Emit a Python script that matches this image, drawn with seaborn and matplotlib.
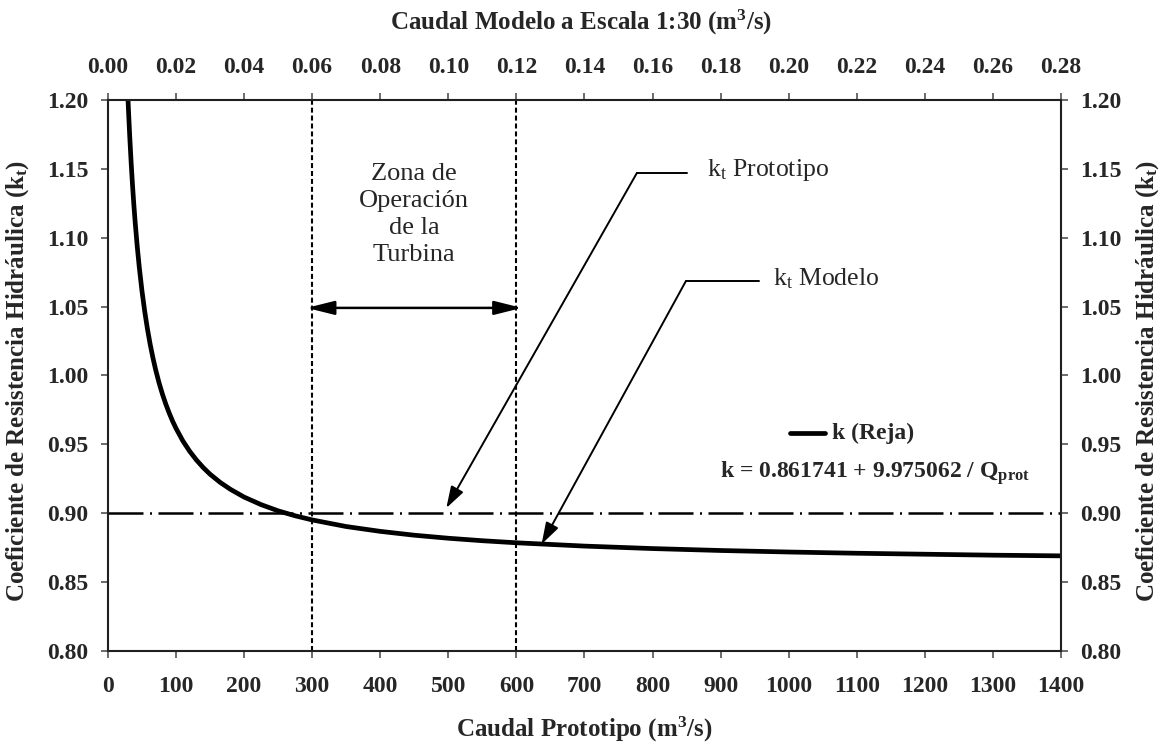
import matplotlib
matplotlib.use("Agg")
import matplotlib.pyplot as plt
import seaborn as sns
import pandas as pd

# Hydraulic resistance coefficient of the trash rack vs. prototype discharge
q_prot = [28, 30, 32, 34, 36, 38, 40, 43, 46, 50, 54, 58, 62, 66, 70, 75, 80,
          85, 90, 95, 100, 110, 120, 130, 140, 150, 165, 180, 200, 225, 250,
          275, 300, 350, 400, 450, 500, 550, 600, 700, 800, 900, 1000, 1100,
          1200, 1300, 1400]
k_reja = [1.2180, 1.1942, 1.1735, 1.1551, 1.1388, 1.1242, 1.1111, 1.0937,
          1.0786, 1.0612, 1.0465, 1.0337, 1.0226, 1.0129, 1.0042, 0.9947,
          0.9864, 0.9791, 0.9726, 0.9667, 0.9615, 0.9524, 0.9449, 0.9385,
          0.9330, 0.9282, 0.9222, 0.9172, 0.9116, 0.9061, 0.9016, 0.8980,
          0.8950, 0.8902, 0.8867, 0.8839, 0.8817, 0.8799, 0.8784, 0.8760,
          0.8742, 0.8728, 0.8717, 0.8708, 0.8701, 0.8694, 0.8689]

kt_design = 0.90              # horizontal reference k_t
zone_limits = [300, 600]      # turbine operating range (m3/s)
scale_factor = 5000           # prototype -> 1:30 model discharge

x_ticks = list(range(0, 1401, 100))
top_ticks = [i * 0.02 for i in range(15)]
y_ticks = [0.80, 0.85, 0.90, 0.95, 1.00, 1.05, 1.10, 1.15, 1.20]

sns.set_theme(style="white")
plt.rcParams["font.family"] = ["Liberation Serif", "DejaVu Serif"]
plt.rcParams["mathtext.fontset"] = "custom"
plt.rcParams["mathtext.rm"] = "Liberation Serif"
plt.rcParams["mathtext.it"] = "Liberation Serif:italic"
plt.rcParams["mathtext.bf"] = "Liberation Serif:bold"

fig = plt.figure(figsize=(11.62, 7.49), dpi=100)
ax = fig.add_axes([0.0929, 0.1312, 0.8202, 0.7353])

df = pd.DataFrame({"Q": q_prot, "k": k_reja})
sns.lineplot(data=df, x="Q", y="k", ax=ax, color="black", lw=3.4,
             label="k (Reja)", legend=False, sort=False)

ax.axhline(kt_design, color="black", lw=1.8,
           linestyle=(0, (14, 2.6, 0.8, 2.6)))
for xv in zone_limits:
    ax.axvline(xv, color="black", lw=1.5, linestyle=(0, (2.4, 1.4)))

ax.set_xlim(0, 1400)
ax.set_ylim(0.80, 1.20)
ax.set_xticks(x_ticks)
ax.set_yticks(y_ticks)
ax.set_yticklabels([f"{v:.2f}" for v in y_ticks])

for lab in ax.get_xticklabels() + ax.get_yticklabels():
    lab.set_fontsize(17)
    lab.set_fontweight("bold")

for sp in ax.spines.values():
    sp.set_linewidth(1.5)
    sp.set_color("black")

ax.tick_params(axis="x", direction="out", length=5, width=1.1, color="#444",
               pad=13, bottom=True)
ax.tick_params(axis="y", direction="out", length=5, width=1.1, color="#444",
               pad=9, left=True)

# right axis mirrors the coefficient scale
axr = ax.twinx()
axr.set_ylim(ax.get_ylim())
axr.set_yticks(y_ticks)
axr.set_yticklabels([f"{v:.2f}" for v in y_ticks], fontsize=17,
                    fontweight="bold")
axr.tick_params(axis="y", direction="out", length=5, width=1.1, color="#444",
                pad=9, right=True)
axr.grid(False)

# top axis: model discharge at 1:30 scale
axt = ax.secondary_xaxis("top", functions=(lambda q: q / scale_factor,
                                           lambda m: m * scale_factor))
axt.set_xticks(top_ticks)
axt.set_xticklabels([f"{v:.2f}" for v in top_ticks], fontsize=17,
                    fontweight="bold")
axt.tick_params(axis="x", direction="out", length=5, width=1.1, color="#444",
                pad=11)

label_font = dict(fontsize=18, fontweight="bold")
ax.set_xlabel(r"Caudal Prototipo (m$^\mathbf{3}$/s)", va="center", **label_font)
ax.xaxis.set_label_coords(0.5, -0.142)
fig.text(0.5, 1 - 22 / 749, r"Caudal Modelo a Escala 1:30 (m$^\mathbf{3}$/s)",
         ha="center", va="center", **label_font)
ylab = r"Coeficiente de Resistencia Hidráulica (k$_\mathbf{t}$)"
ax.set_ylabel(ylab, va="center", **label_font)
ax.yaxis.set_label_coords(-0.095, 0.49)
axr.set_ylabel(ylab, va="center", rotation=90, **label_font)
axr.yaxis.set_label_coords(1.0913, 0.49)

# operating-zone annotation
ax.text(450, 1.117, "Zona de\nOperación\nde la\nTurbina", ha="center",
        va="center", fontsize=19, linespacing=1.3)
ax.annotate("", xy=(292, 1.049), xytext=(608, 1.049),
            arrowprops=dict(arrowstyle="<|-|>,head_length=1.4,head_width=0.35",
                            color="black", lw=1.8, shrinkA=0, shrinkB=0))

# leader callouts
ax.plot([777, 851], [1.147, 1.147], color="black", lw=1.4)
ax.annotate("", xy=(497, 0.9036), xytext=(777, 1.147),
            arrowprops=dict(arrowstyle="-|>,head_length=1.1,head_width=0.35",
                            color="black", lw=1.4, shrinkA=0, shrinkB=0))
ax.text(880, 1.149, r"k$_\mathrm{t}$ Prototipo", ha="left", va="center",
        fontsize=18.5)

ax.plot([849, 956], [1.0685, 1.0685], color="black", lw=1.4)
ax.annotate("", xy=(637, 0.8774), xytext=(849, 1.0685),
            arrowprops=dict(arrowstyle="-|>,head_length=1.1,head_width=0.35",
                            color="black", lw=1.4, shrinkA=0, shrinkB=0))
ax.text(977, 1.070, r"k$_\mathrm{t}$ Modelo", ha="left", va="center",
        fontsize=18.5)

# legend entry and fitted equation
ax.plot([1002, 1053], [0.958, 0.958], color="black", lw=3.4)
ax.text(1064, 0.958, "k (Reja)", ha="left", va="center", fontsize=17,
        fontweight="bold")
ax.text(1127, 0.929, r"k = 0.861741 + 9.975062 / Q$_\mathbf{prot}$",
        ha="center", va="center", fontsize=17, fontweight="bold")

fig.savefig("out.png", dpi=100)
